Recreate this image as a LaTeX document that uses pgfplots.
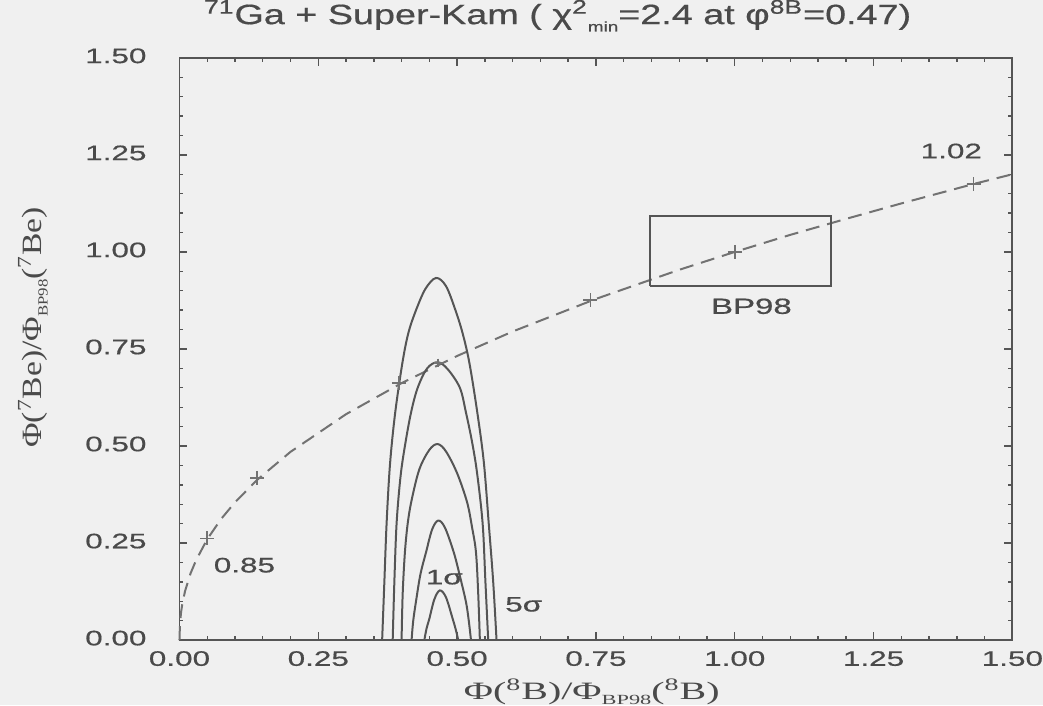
\documentclass[border=0pt]{standalone}
\usepackage{pgfplots}
\pgfplotsset{compat=1.18}
\usepackage{fontspec}
\setmainfont{Liberation Sans}[FakeStretch=1.5, FakeBold=0.6]
\newfontfamily\titlefont{Liberation Sans}[FakeStretch=1.35, FakeBold=0.6]
\newfontfamily\labserif{Liberation Serif}[FakeStretch=1.6]
\newfontfamily\ylabserif{Liberation Serif}[FakeStretch=1.2]
\definecolor{bgc}{HTML}{F0F0F0}
\definecolor{ln}{HTML}{555555}
\definecolor{txt}{HTML}{4A4A4A}
\definecolor{dsh}{HTML}{727272}
\pagecolor{bgc}
\begin{document}
\begin{tikzpicture}
\begin{axis}[
  width=417pt, height=291.5pt, scale only axis,
  xmin=0, xmax=1.5, ymin=0, ymax=1.5,
  xtick={0,0.25,...,1.5}, ytick={0,0.25,...,1.5},
  minor tick num=4,
  xtick pos=both, ytick pos=both,
  tick align=inside,
  major tick length=4pt, minor tick length=2pt,
  axis line style={ln, line width=0.9pt},
  every tick/.style={ln, line width=0.7pt},
  /pgf/number format/assume math mode=true,
  /pgf/number format/.cd, fixed, fixed zerofill, precision=2, /pgfplots/.cd,
  tick label style={font=\fontsize{10.5}{12}\selectfont, text=txt},
  yticklabel style={anchor=east, xshift=-13pt, yshift=1pt},
  xticklabel style={inner xsep=0pt, yshift=-2pt},
  title={\titlefont\fontsize{14}{16}\selectfont \textsuperscript{71}Ga + Super-Kam ( χ\textsuperscript{2}\raisebox{-0.5ex}{\scriptsize min}=2.4 at φ\textsuperscript{8B}=0.47)},
  title style={text=txt, inner sep=0pt, at={(axis description cs:0.49,1)}, anchor=south, yshift=7pt, xshift=-15pt},
  xlabel={\labserif\fontsize{12.5}{14}\selectfont Φ(\textsuperscript{8}B)/Φ\raisebox{-0.5ex}{\scriptsize BP98}(\textsuperscript{8}B)},
  xlabel style={text=txt, inner sep=0pt, at={(axis description cs:0.495,-0.089)}, anchor=center},
  ylabel={\ylabserif\fontsize{14}{16}\selectfont Φ(\textsuperscript{7}Be)/Φ\raisebox{-0.5ex}{\scriptsize BP98}(\textsuperscript{7}Be)},
  ylabel style={text=txt, inner xsep=0pt, inner ysep=9pt, at={(axis description cs:-0.176,0.537)}, anchor=center},
  clip=false,
]
% dashed trajectory
\addplot[dsh, line width=1pt, dash pattern=on 7pt off 4pt] coordinates {
 (0,0) (0.001,0.045) (0.003,0.073) (0.005,0.092) (0.01,0.126) (0.02,0.172)
 (0.03,0.206) (0.05,0.260) (0.075,0.312) (0.1,0.355) (0.14,0.413) (0.2,0.485)
 (0.3,0.582) (0.4,0.662) (0.5,0.732) (0.6,0.795) (0.75,0.879) (0.9,0.954)
 (1.0,1.0) (1.1,1.044) (1.2,1.085) (1.3,1.125) (1.43,1.175) (1.5,1.200)};
% + marks
\addplot[only marks, mark=+, mark size=3.5pt, dsh, line width=0.8pt] coordinates {
 (0.05,0.262) (0.14,0.418) (0.395,0.662) (0.74,0.876) (1.0,1.0) (1.43,1.175)};
\addplot[only marks, mark=+, mark size=2.2pt, dsh, line width=0.8pt] coordinates {
 (0.466,0.714)};
% contours
\addplot[ln, line width=1pt, smooth, tension=0.55] coordinates {
 (0.365,0) (0.369,0.15) (0.373,0.30) (0.379,0.45) (0.388,0.58) (0.401,0.71)
 (0.412,0.79) (0.426,0.85) (0.443,0.905) (0.462,0.933) (0.480,0.912) (0.497,0.85)
 (0.510,0.79) (0.522,0.715) (0.536,0.59) (0.548,0.46) (0.557,0.30) (0.565,0.15) (0.571,0)};
\addplot[ln, line width=1pt, smooth, tension=0.55] coordinates {
 (0.384,0) (0.387,0.15) (0.391,0.30) (0.398,0.42) (0.406,0.50) (0.417,0.586)
 (0.429,0.650) (0.446,0.700) (0.465,0.716) (0.483,0.698) (0.505,0.650) (0.516,0.586)
 (0.527,0.51) (0.536,0.43) (0.546,0.30) (0.551,0.15) (0.556,0)};
\addplot[ln, line width=1pt, smooth, tension=0.55] coordinates {
 (0.400,0) (0.402,0.12) (0.406,0.226) (0.411,0.30) (0.418,0.36) (0.432,0.44)
 (0.450,0.49) (0.465,0.505) (0.480,0.486) (0.500,0.43) (0.518,0.355) (0.527,0.29)
 (0.534,0.226) (0.538,0.12) (0.541,0)};
\addplot[ln, line width=1pt, smooth, tension=0.55] coordinates {
 (0.418,0) (0.421,0.05) (0.426,0.10) (0.434,0.17) (0.444,0.226) (0.455,0.285)
 (0.466,0.308) (0.478,0.29) (0.494,0.226) (0.505,0.165) (0.516,0.098) (0.521,0.05) (0.525,0)};
\addplot[ln, line width=1pt, smooth, tension=0.55] coordinates {
 (0.441,0) (0.445,0.03) (0.450,0.055) (0.459,0.105) (0.469,0.128) (0.480,0.11)
 (0.492,0.055) (0.498,0.025) (0.502,0)};
% BP98 box
\addplot[ln, line width=1pt] coordinates {
 (0.847,0.913) (1.174,0.913) (1.174,1.093) (0.847,1.093) (0.847,0.913)};
% annotations
\node[text=txt, font=\fontsize{10.5}{12}\selectfont] at (axis cs:0.117,0.193) {0.85};
\node[text=txt, font=\fontsize{10.5}{12}\selectfont] at (axis cs:1.39,1.26) {1.02};
\node[text=txt, font=\fontsize{11}{12}\selectfont] at (axis cs:1.03,0.86) {BP98};
\node[text=txt, font=\fontsize{10.5}{12}\selectfont] at (axis cs:0.477,0.162) {1σ};
\node[text=txt, font=\fontsize{10.5}{12}\selectfont] at (axis cs:0.62,0.092) {5σ};
\end{axis}
\end{tikzpicture}
\end{document}
